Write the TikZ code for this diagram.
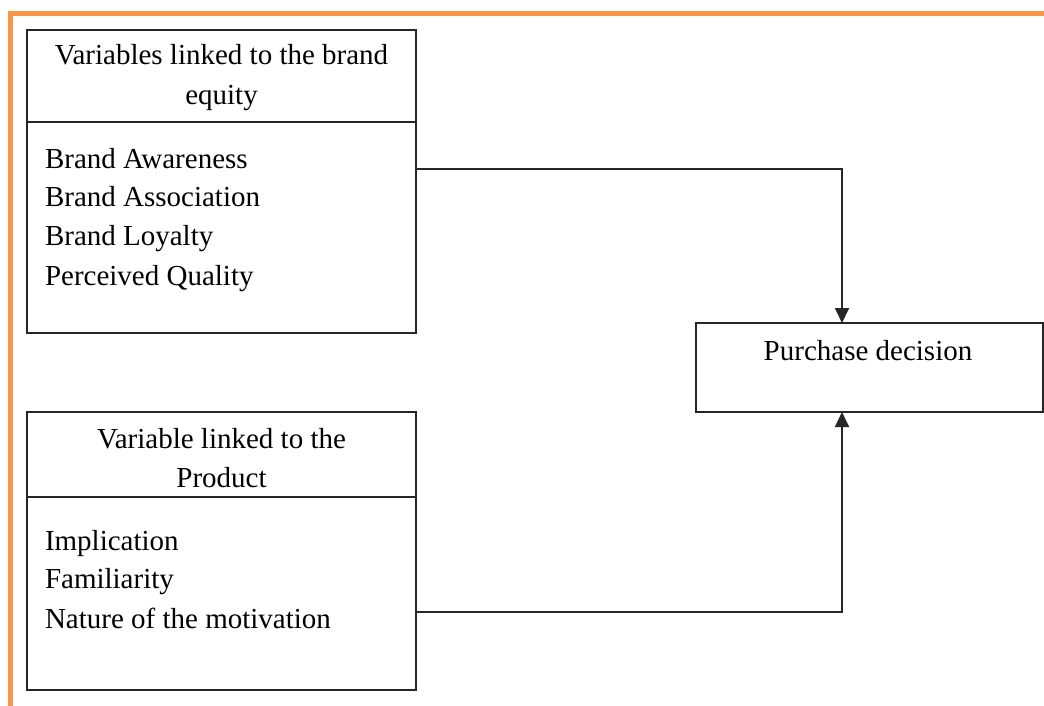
\documentclass[tikz,border=0pt]{standalone}
\usepackage{fontspec}
\setmainfont{Liberation Serif}
\usetikzlibrary{arrows.meta}
\definecolor{frameorange}{HTML}{F79646}
\begin{document}
\begin{tikzpicture}[x=1pt,y=-1pt,
  box/.style={draw=black!85,line width=1.8pt,rectangle,inner sep=0pt,outer sep=0pt},
  txt/.style={font=\fontsize{29}{39}\selectfont,inner sep=0pt,outer sep=0pt},
  ctxt/.style={txt,anchor=base},
  ltxt/.style={txt,anchor=base west},
  conn/.style={draw=black!85,line width=1.8pt,-{Triangle[width=14pt,length=15pt]}}]
\useasboundingbox (0,0) rectangle (1044,706);
% orange frame
\draw[frameorange,line width=5pt] (10,706) -- (10,14) -- (1044,14);
% boxes
\node[box,minimum width=389pt,minimum height=303pt] (b1) at (221.5,181.5) {};
\node[box,minimum width=389pt,minimum height=278pt] (b2) at (221.5,551) {};
\node[box,minimum width=347pt,minimum height=89pt] (b3) at (869.5,367.5) {};
% dividers
\coordinate (d1l) at (27,122); \coordinate (d1r) at (416,122);
\coordinate (d2l) at (27,497); \coordinate (d2r) at (416,497);
\draw[draw=black!85,line width=1.8pt] (d1l) -- (d1r);
\draw[draw=black!85,line width=1.8pt] (d2l) -- (d2r);
% box 1 texts
\node[ctxt] (t1a) at (221.5,65) {Variables linked to the brand};
\node[ctxt] (t1b) at (221.5,105) {equity};
\node[ltxt] (l1a) at (45,168) {Brand Awareness};
\node[ltxt] (l1b) at (45,206) {Brand Association};
\node[ltxt] (l1c) at (45,245) {Brand Loyalty};
\node[ltxt] (l1d) at (45,285) {Perceived Quality};
% box 2 texts
\node[ctxt] (t2a) at (221.5,448) {Variable linked to the};
\node[ctxt] (t2b) at (221.5,487) {Product};
\node[ltxt] (l2a) at (45,550) {Implication};
\node[ltxt] (l2b) at (45,588) {Familiarity};
\node[ltxt] (l2c) at (45,628) {Nature of the motivation};
% box 3 text
\node[ctxt] (t3) at (868,360) {Purchase decision};
% connectors
\coordinate (c1) at (842,169);
\coordinate (c2) at (842,612);
\draw[conn] (b1.east |- c1) -- (c1) -- (c1 |- b3.north);
\draw[conn] (b2.east |- c2) -- (c2) -- (c2 |- b3.south);
\end{tikzpicture}
\end{document}
